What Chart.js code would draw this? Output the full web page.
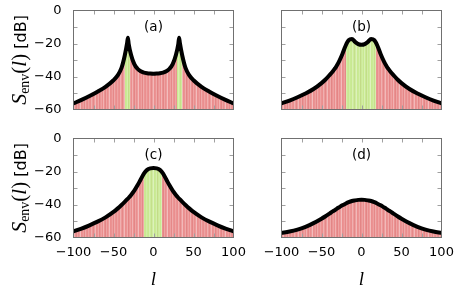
<!DOCTYPE html>
<html>
<head>
<meta charset="utf-8">
<script src="https://cdn.jsdelivr.net/npm/chart.js@4.4.1/dist/chart.umd.min.js"></script>
<style>
  body { margin: 0; background: #fff; }
  #wrap { position: relative; width: 463px; height: 296px; }
  #wrap canvas { position: absolute; left: 0; top: 0; }
</style>
</head>
<body>
<div id="wrap">
  <canvas id="panelA" width="463" height="296"></canvas>
  <canvas id="panelB" width="463" height="296"></canvas>
  <canvas id="panelC" width="463" height="296"></canvas>
  <canvas id="panelD" width="463" height="296"></canvas>
</div>
<script>
const lValues = [-100, -90, -80, -70, -60, -50, -45, -40, -36, -33, -32, -31, -28, -24, -20, -16, -12, -8, -4, 0,
  4, 8, 12, 16, 20, 24, 28, 31, 32, 33, 36, 40, 45, 50, 60, 70, 80, 90, 100];

// S_env(l) in dB for each panel
const envA = [-56.3, -54.2, -51.8, -49.2, -46.3, -42.3, -39.5, -34.8, -27.4, -19.8, -16.5, -20.3, -27.0, -32.5, -35.3, -36.8, -37.6, -38.0, -38.2, -38.3,
  -38.2, -38.0, -37.6, -36.8, -35.3, -32.5, -27.0, -20.3, -16.5, -19.8, -27.4, -34.8, -39.5, -42.3, -46.3, -49.2, -51.8, -54.2, -56.3];
const envB = [-56.3, -54.6, -52.6, -50.3, -47.6, -44.0, -41.8, -39.2, -37.0, -35.0, -34.3, -33.5, -30.8, -26.5, -21.5, -18.0, -17.3, -19.0, -20.4, -20.8,
  -20.4, -19.0, -17.3, -18.0, -21.5, -26.5, -30.8, -33.5, -34.3, -35.0, -37.0, -39.2, -41.8, -44.0, -47.6, -50.3, -52.6, -54.6, -56.3];
const envC = [-56.3, -54.6, -52.6, -50.4, -47.8, -44.5, -42.5, -40.3, -38.4, -36.9, -36.4, -35.9, -34.2, -31.6, -28.4, -24.8, -21.3, -19.0, -18.1, -17.9,
  -18.1, -19.0, -21.3, -24.8, -28.4, -31.6, -34.2, -35.9, -36.4, -36.9, -38.4, -40.3, -42.5, -44.5, -47.8, -50.4, -52.6, -54.6, -56.3];
const envD = [-57.2, -56.4, -55.2, -53.5, -51.3, -48.6, -47.1, -45.5, -44.2, -43.3, -43.0, -42.6, -41.7, -40.5, -39.5, -38.6, -37.9, -37.5, -37.2, -37.1,
  -37.2, -37.5, -37.9, -38.6, -39.5, -40.5, -41.7, -42.6, -43.0, -43.3, -44.2, -45.5, -47.1, -48.6, -51.3, -53.5, -55.2, -56.4, -57.2];

// l ranges shaded green
const greenA = [[-35.5, -29], [29, 35.5]];
const greenB = [[-18.75, 18.75]];
const greenC = [[-11.25, 11.25]];
const greenD = [];

const panelLabels = ["(a)", "(b)", "(c)", "(d)"];

const PINK = "rgb(234,142,142)";
const GREEN = "rgb(200,233,145)";
const Y_AXIS_W = 60;
const X_AXIS_H = 40;

Chart.defaults.font.family = "'DejaVu Sans', sans-serif";

function fmt(v) {
  return v < 0 ? "\u2212" + Math.abs(v) : String(v);
}

// thin vertical stripes like the sampled bars of the original
let stripeSrc = null;
function stripes(chart) {
  if (!stripeSrc) {
    const a = [0, .2, .05, 0, .3, .1, -.04, .14, .38, 0, .05, .24, -.06, .08, .18, 0, .32, .04, -.05, .2, 0, .12, .42, 0, .05, .16, -.04, .26, .06];
    stripeSrc = document.createElement("canvas");
    stripeSrc.width = a.length;
    stripeSrc.height = 4;
    const g = stripeSrc.getContext("2d");
    a.forEach((v, i) => {
      g.fillStyle = v >= 0 ? `rgba(255,255,255,${v})` : `rgba(120,0,0,${-v})`;
      g.fillRect(i, 0, 1, 4);
    });
  }
  return chart.ctx.createPattern(stripeSrc, "repeat");
}

// pink fill with hard green bands
function bandFill(chart, greens) {
  const area = chart.chartArea;
  const xs = chart.scales.x;
  if (!area || !xs) return PINK;
  const w = area.right - area.left;
  const pos = (v) => Math.min(1, Math.max(0, (xs.getPixelForValue(v) - area.left) / w));
  const g = chart.ctx.createLinearGradient(area.left, 0, area.right, 0);
  g.addColorStop(0, PINK);
  greens.forEach(([a, b]) => {
    g.addColorStop(pos(a), PINK);
    g.addColorStop(pos(a), GREEN);
    g.addColorStop(pos(b), GREEN);
    g.addColorStop(pos(b), PINK);
  });
  g.addColorStop(1, PINK);
  return g;
}

function drawYTitle(ctx, bx, cy) {
  const serif = "'Liberation Serif', serif";
  const parts = [
    { t: "S", f: `italic 22px ${serif}`, dy: 0 },
    { t: "env", f: `14px ${serif}`, dy: 3.5 },
    { t: "(", f: `21px ${serif}`, dy: 0 },
    { t: "l", f: `italic 21px ${serif}`, dy: 0 },
    { t: ")", f: `21px ${serif}`, dy: 0 },
    { t: " [dB]", f: "16px 'DejaVu Sans', sans-serif", dy: 0 },
  ];
  let total = 0;
  parts.forEach((p) => {
    ctx.font = p.f;
    p.w = ctx.measureText(p.t).width;
    total += p.w;
  });
  ctx.save();
  ctx.translate(bx, cy);
  ctx.rotate(-Math.PI / 2);
  ctx.fillStyle = "#000";
  ctx.textBaseline = "alphabetic";
  ctx.textAlign = "left";
  let x = -total / 2;
  parts.forEach((p) => {
    ctx.font = p.f;
    ctx.fillText(p.t, x, p.dy);
    x += p.w;
  });
  ctx.restore();
}

// inner ticks, frame, panel label and axis titles
const panelDecor = {
  id: "panelDecor",
  afterDraw(chart, args, opts) {
    const { ctx, chartArea: a } = chart;
    const xs = chart.scales.x;
    const ys = chart.scales.y;
    const tl = 4;
    ctx.save();
    ctx.strokeStyle = "#a0a0a0";
    ctx.lineWidth = 1;
    ctx.beginPath();
    xs.ticks.forEach((t) => {
      if (t.value <= xs.min || t.value >= xs.max) return;
      const px = Math.round(xs.getPixelForValue(t.value)) + 0.5;
      ctx.moveTo(px, a.top);
      ctx.lineTo(px, a.top + tl);
      ctx.moveTo(px, a.bottom);
      ctx.lineTo(px, a.bottom - tl);
    });
    ys.ticks.forEach((t) => {
      if (t.value <= ys.min || t.value >= ys.max) return;
      const py = Math.round(ys.getPixelForValue(t.value)) + 0.5;
      ctx.moveTo(a.left, py);
      ctx.lineTo(a.left + tl, py);
      ctx.moveTo(a.right, py);
      ctx.lineTo(a.right - tl, py);
    });
    ctx.stroke();
    ctx.strokeStyle = "#707070";
    ctx.strokeRect(a.left, a.top, a.right - a.left, a.bottom - a.top);

    const cx = (a.left + a.right) / 2;
    ctx.fillStyle = "#000";
    ctx.font = "13.5px 'DejaVu Sans', sans-serif";
    ctx.textAlign = "center";
    ctx.textBaseline = "middle";
    ctx.fillText(opts.label, cx, a.top + 16.5);

    if (opts.xTitle) {
      ctx.font = "italic 19px 'Liberation Serif', serif";
      ctx.textBaseline = "alphabetic";
      ctx.fillText("l", cx, 285);
    }
    ctx.restore();
    if (opts.yTitle) drawYTitle(ctx, 25.5, (a.top + a.bottom) / 2);
  },
};

function makePanel(id, area, env, greens, label, showX, showY) {
  const pts = lValues.map((l, i) => ({ x: l, y: env[i] }));
  const common = { data: pts, pointRadius: 0, cubicInterpolationMode: "monotone" };
  return new Chart(document.getElementById(id), {
    type: "line",
    data: {
      datasets: [
        { ...common, borderColor: "#000", borderWidth: 4, borderJoinStyle: "round", fill: false },
        { ...common, borderWidth: 0, borderColor: "transparent", fill: "start", backgroundColor: (c) => stripes(c.chart) },
        { ...common, borderWidth: 0, borderColor: "transparent", fill: "start", backgroundColor: (c) => bandFill(c.chart, greens) },
      ],
    },
    options: {
      responsive: false,
      animation: false,
      events: [],
      layout: {
        padding: {
          left: area.left - Y_AXIS_W,
          top: area.top,
          right: 463 - area.right,
          bottom: 296 - area.bottom - X_AXIS_H,
        },
      },
      plugins: {
        legend: { display: false },
        tooltip: { enabled: false },
        panelDecor: { label: label, xTitle: showX, yTitle: showY },
      },
      scales: {
        x: {
          type: "linear",
          min: -100,
          max: 100,
          grid: { display: false, drawTicks: false },
          border: { display: false },
          ticks: {
            display: showX,
            stepSize: 25,
            autoSkip: false,
            maxRotation: 0,
            padding: 7,
            color: "#000",
            font: { size: 13 },
            callback: (v) => (v % 50 === 0 ? fmt(v) : ""),
          },
          afterFit: (s) => {
            s.height = X_AXIS_H;
            s.paddingLeft = 0;
            s.paddingRight = 0;
          },
        },
        y: {
          min: -60,
          max: 0,
          grid: { display: false, drawTicks: false },
          border: { display: false },
          ticks: {
            display: showY,
            stepSize: 10,
            autoSkip: false,
            padding: 12,
            color: "#000",
            font: { size: 13 },
            callback: (v) => (v % 20 === 0 ? fmt(v) : ""),
          },
          afterFit: (s) => {
            s.width = Y_AXIS_W;
            s.paddingTop = 0;
            s.paddingBottom = 0;
          },
        },
      },
    },
    plugins: [panelDecor],
  });
}

const topRow = { top: 10.5, bottom: 109.5 };
const bottomRow = { top: 138.5, bottom: 237.5 };
const leftCol = { left: 73.5, right: 233.5 };
const rightCol = { left: 281.5, right: 441.5 };

makePanel("panelA", { ...leftCol, ...topRow }, envA, greenA, panelLabels[0], false, true);
makePanel("panelB", { ...rightCol, ...topRow }, envB, greenB, panelLabels[1], false, false);
makePanel("panelC", { ...leftCol, ...bottomRow }, envC, greenC, panelLabels[2], true, true);
makePanel("panelD", { ...rightCol, ...bottomRow }, envD, greenD, panelLabels[3], true, false);
</script>
</body>
</html>
